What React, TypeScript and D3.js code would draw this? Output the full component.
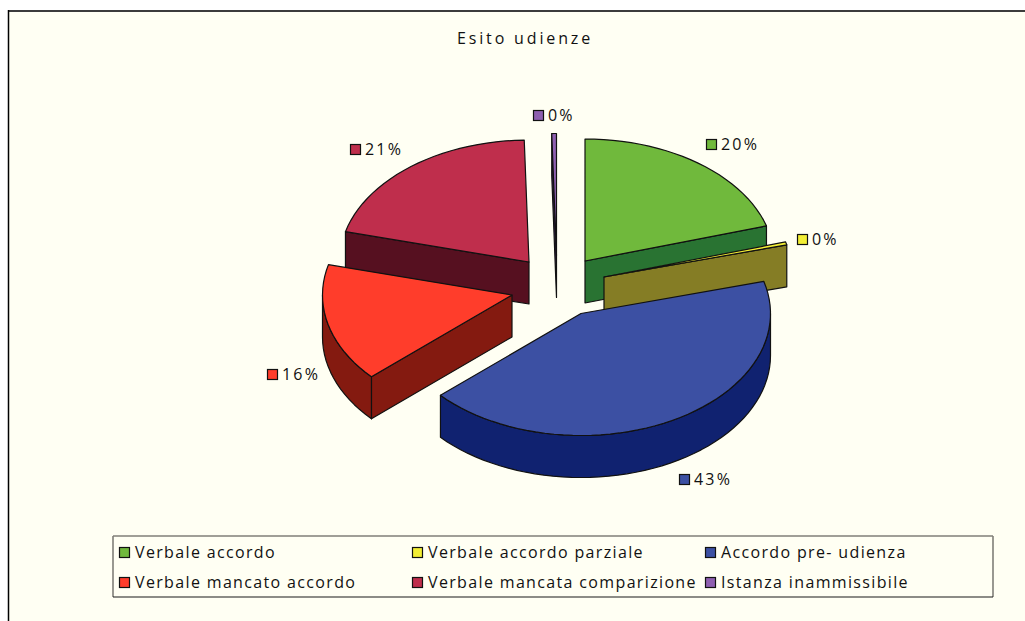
import React from "react";
import * as d3 from "d3";

const title = "Esito udienze";
const categories = [
  "Verbale accordo",
  "Verbale accordo parziale",
  "Accordo pre- udienza",
  "Verbale mancato accordo",
  "Verbale mancata comparizione",
  "Istanza inammissibile",
];
const values = [20.35, 0.4, 42.55, 15.7, 20.6, 0.4];
const topColors = ["#70b93c", "#f2ee35", "#3c50a3", "#ff3d2b", "#bf2e4c", "#8e5fb0"];
const wallColors = ["#297332", "#857d25", "#102270", "#841a10", "#561020", "#3a2050"];
// per-slice apex of the exploded pie
const apexX = [585, 604, 581, 512, 529, 556.5];
const apexY = [261, 277, 313.5, 295, 262, 255.5];
const labelX = [706, 797, 679, 267, 350, 533];
const labelY = [144, 239, 479, 374, 149, 115];
const drawOrder = [5, 0, 4, 1, 3, 2];

const RX = 189.5;
const RY = 122;
const DEPTH = 42;
const FONT = '"Open Sans", "DejaVu Sans", sans-serif';
const INK = "#111";
const BG = "#fffff3";
const GREY = "#807f78";

const pct = d3.format(".0%");

export default function App() {
  const arcs = d3.pie<number>().sort(null).startAngle(0).endAngle(2 * Math.PI)(values);
  const xs = d3.scaleLinear().domain([-1, 1]).range([-RX, RX]);
  const ys = d3.scaleLinear().domain([-1, 1]).range([-RY, RY]);
  const pt = (i: number, t: number, dz = 0): [number, number] => [
    apexX[i] + xs(Math.sin(t)),
    apexY[i] + ys(-Math.cos(t)) + dz,
  ];
  const rim = (i: number, a: number, b: number, dz = 0) => {
    const n = Math.max(2, Math.ceil(Math.abs(b - a) / 0.05));
    return d3.range(n + 1).map((k) => pt(i, a + ((b - a) * k) / n, dz));
  };
  const line = d3.line();
  const total = d3.sum(values);

  const wallPaths = (i: number) => {
    const { startAngle: s, endAngle: e } = arcs[i];
    const apex: [number, number] = [apexX[i], apexY[i]];
    const apexLow: [number, number] = [apexX[i], apexY[i] + DEPTH];
    const out: string[] = [];
    const quad = (t: number) =>
      (line([apex, pt(i, t), pt(i, t, DEPTH), apexLow]) as string) + "Z";
    if (Math.sin(s) < -1e-6) out.push(quad(s));
    if (Math.sin(e) > 1e-6) out.push(quad(e));
    const a = Math.max(s, Math.PI / 2);
    const b = Math.min(e, (3 * Math.PI) / 2);
    if (b > a) {
      out.push((line([...rim(i, a, b), ...rim(i, b, a, DEPTH)]) as string) + "Z");
    }
    return out;
  };
  const topPath = (i: number) =>
    (line([[apexX[i], apexY[i]], ...rim(i, arcs[i].startAngle, arcs[i].endAngle)]) as string) + "Z";

  const legX = d3.scaleOrdinal<number, number>().domain([0, 1, 2]).range([119.5, 412.5, 705.5]);
  const legY = d3.scaleOrdinal<number, number>().domain([0, 1]).range([552, 582]);

  return (
    <svg
      width={1025}
      height={621}
      style={{ position: "absolute", left: 0, top: 0, display: "block" }}
      fontFamily={FONT}
    >
      <rect x={0} y={0} width={1025} height={621} fill="#fff" />
      <rect x={8} y={11} width={1017} height={610} fill={BG} />
      <line x1={8} x2={1025} y1={11} y2={11} stroke="#3c3c3c" strokeWidth={1.8} />
      <line x1={8.5} x2={8.5} y1={10} y2={621} stroke="#000" strokeWidth={1.5} />
      <text x={525} y={44} textAnchor="middle" fontSize={16} letterSpacing={2.85} fill={INK}>
        {title}
      </text>

      {drawOrder.map((i) => (
        <g key={i} stroke={INK} strokeWidth={1.2} strokeLinejoin="round">
          {wallPaths(i).map((d, k) => (
            <path key={k} d={d} fill={wallColors[i]} />
          ))}
          <path d={topPath(i)} fill={topColors[i]} />
        </g>
      ))}

      {categories.map((c, i) => (
        <g key={c}>
          <rect x={labelX[i] + 0.5} y={labelY[i] - 4.5} width={10} height={10} fill={topColors[i]} stroke={INK} strokeWidth={1.2} />
          <text x={labelX[i] + 15} y={labelY[i] + 6} fontSize={16} letterSpacing={2.2} fill={INK}>
            {pct(values[i] / total)}
          </text>
        </g>
      ))}

      <line x1={113} x2={993} y1={536} y2={536} stroke={GREY} strokeWidth={1.6} />
      <line x1={113} x2={113} y1={536} y2={597} stroke={GREY} strokeWidth={1.6} />
      <line x1={993} x2={993} y1={536} y2={597} stroke={GREY} strokeWidth={1.6} />
      <line x1={113} x2={993} y1={597} y2={597} stroke="#1a1a1a" strokeWidth={1.2} />
      {categories.map((c, i) => {
        const col = i % 3;
        const row = Math.floor(i / 3);
        return (
          <g key={c}>
            <rect x={legX(col)} y={legY(row) - 4.5} width={10} height={10} fill={topColors[i]} stroke={INK} strokeWidth={1.2} />
            <text x={legX(col) + 15.5} y={legY(row) + 6} fontSize={16} letterSpacing={1.35} fill={INK}>
              {c}
            </text>
          </g>
        );
      })}
    </svg>
  );
}
